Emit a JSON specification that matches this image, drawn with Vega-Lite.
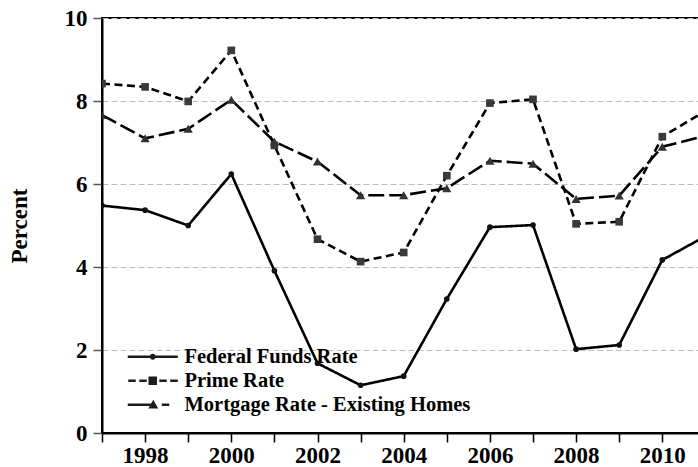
{
  "$schema": "https://vega.github.io/schema/vega-lite/v6.json",
  "width": 620,
  "height": 415,
  "autosize": "none",
  "padding": {"left": 102, "top": 18, "right": 0, "bottom": 34},
  "background": "white",
  "config": {
    "view": {"stroke": "black", "strokeWidth": 2},
    "font": "Liberation Serif"
  },
  "data": {
    "values": [
      {"s": "Federal Funds Rate", "y": 1997, "r": 5.48},
      {"s": "Federal Funds Rate", "y": 1998, "r": 5.37},
      {"s": "Federal Funds Rate", "y": 1999, "r": 5.0},
      {"s": "Federal Funds Rate", "y": 2000, "r": 6.24},
      {"s": "Federal Funds Rate", "y": 2001, "r": 3.91},
      {"s": "Federal Funds Rate", "y": 2002, "r": 1.68},
      {"s": "Federal Funds Rate", "y": 2003, "r": 1.15},
      {"s": "Federal Funds Rate", "y": 2004, "r": 1.37},
      {"s": "Federal Funds Rate", "y": 2005, "r": 3.23},
      {"s": "Federal Funds Rate", "y": 2006, "r": 4.96},
      {"s": "Federal Funds Rate", "y": 2007, "r": 5.01},
      {"s": "Federal Funds Rate", "y": 2008, "r": 2.02},
      {"s": "Federal Funds Rate", "y": 2009, "r": 2.12},
      {"s": "Federal Funds Rate", "y": 2010, "r": 4.17},
      {"s": "Federal Funds Rate", "y": 2011, "r": 4.74},
      {"s": "Prime Rate", "y": 1997, "r": 8.42},
      {"s": "Prime Rate", "y": 1998, "r": 8.34},
      {"s": "Prime Rate", "y": 1999, "r": 7.99},
      {"s": "Prime Rate", "y": 2000, "r": 9.22},
      {"s": "Prime Rate", "y": 2001, "r": 6.93},
      {"s": "Prime Rate", "y": 2002, "r": 4.67},
      {"s": "Prime Rate", "y": 2003, "r": 4.13},
      {"s": "Prime Rate", "y": 2004, "r": 4.35},
      {"s": "Prime Rate", "y": 2005, "r": 6.2},
      {"s": "Prime Rate", "y": 2006, "r": 7.95},
      {"s": "Prime Rate", "y": 2007, "r": 8.04},
      {"s": "Prime Rate", "y": 2008, "r": 5.04},
      {"s": "Prime Rate", "y": 2009, "r": 5.09},
      {"s": "Prime Rate", "y": 2010, "r": 7.14},
      {"s": "Prime Rate", "y": 2011, "r": 7.76},
      {"s": "Mortgage Rate - Existing Homes", "y": 1997, "r": 7.66},
      {"s": "Mortgage Rate - Existing Homes", "y": 1998, "r": 7.1},
      {"s": "Mortgage Rate - Existing Homes", "y": 1999, "r": 7.33},
      {"s": "Mortgage Rate - Existing Homes", "y": 2000, "r": 8.03},
      {"s": "Mortgage Rate - Existing Homes", "y": 2001, "r": 7.02},
      {"s": "Mortgage Rate - Existing Homes", "y": 2002, "r": 6.54},
      {"s": "Mortgage Rate - Existing Homes", "y": 2003, "r": 5.73},
      {"s": "Mortgage Rate - Existing Homes", "y": 2004, "r": 5.73},
      {"s": "Mortgage Rate - Existing Homes", "y": 2005, "r": 5.9},
      {"s": "Mortgage Rate - Existing Homes", "y": 2006, "r": 6.56},
      {"s": "Mortgage Rate - Existing Homes", "y": 2007, "r": 6.49},
      {"s": "Mortgage Rate - Existing Homes", "y": 2008, "r": 5.64},
      {"s": "Mortgage Rate - Existing Homes", "y": 2009, "r": 5.72},
      {"s": "Mortgage Rate - Existing Homes", "y": 2010, "r": 6.9},
      {"s": "Mortgage Rate - Existing Homes", "y": 2011, "r": 7.16}
    ]
  },
  "encoding": {
    "x": {
      "field": "y",
      "type": "quantitative",
      "scale": {"domain": [1997, 2011.385], "nice": false, "zero": false},
      "axis": {
        "title": null,
        "values": [1997, 1998, 1999, 2000, 2001, 2002, 2003, 2004, 2005, 2006, 2007, 2008, 2009, 2010, 2011],
        "format": "d",
        "labelExpr": "datum.value % 2 == 0 ? datum.label : ''",
        "grid": false,
        "domainColor": "black",
        "domainWidth": 2,
        "tickColor": "black",
        "tickWidth": 1.5,
        "tickSize": 9,
        "labelPadding": 2,
        "labelFont": "Liberation Serif",
        "labelFontWeight": "bold",
        "labelFontSize": 23,
        "labelColor": "black",
        "labelOverlap": false,
        "labelFlush": false
      }
    },
    "y": {
      "field": "r",
      "type": "quantitative",
      "scale": {"domain": [0, 10], "nice": false},
      "axis": {
        "title": "Percent",
        "values": [0, 2, 4, 6, 8, 10],
        "grid": true,
        "gridColor": "#bdbdbd",
        "gridDash": [6, 3],
        "gridWidth": 1,
        "domainColor": "black",
        "domainWidth": 2,
        "tickColor": "#555",
        "tickWidth": 1.5,
        "tickSize": 9,
        "labelPadding": 6,
        "labelFont": "Liberation Serif",
        "labelFontWeight": "bold",
        "labelFontSize": 23,
        "labelColor": "black",
        "titleFont": "Liberation Serif",
        "titleFontWeight": "bold",
        "titleFontSize": 23,
        "titleColor": "black",
        "titlePadding": 33
      }
    }
  },
  "layer": [
    {
      "mark": {"type": "line", "color": "black", "strokeWidth": 2.6, "clip": true},
      "encoding": {
        "detail": {"field": "s"},
        "strokeDash": {
          "field": "s",
          "type": "nominal",
          "scale": {
            "domain": ["Federal Funds Rate", "Prime Rate", "Mortgage Rate - Existing Homes"],
            "range": [[1, 0], [8, 4.5], [16, 5]]
          },
          "legend": null
        }
      }
    },
    {
      "mark": {"type": "point", "filled": true, "opacity": 1, "clip": true},
      "encoding": {
        "shape": {
          "field": "s",
          "type": "nominal",
          "scale": {
            "domain": ["Federal Funds Rate", "Prime Rate", "Mortgage Rate - Existing Homes"],
            "range": ["circle", "square", "triangle-up"]
          },
          "legend": null
        },
        "size": {
          "field": "s",
          "type": "nominal",
          "scale": {
            "domain": ["Federal Funds Rate", "Prime Rate", "Mortgage Rate - Existing Homes"],
            "range": [32, 85, 95]
          },
          "legend": null
        },
        "color": {
          "field": "s",
          "type": "nominal",
          "scale": {
            "domain": ["Federal Funds Rate", "Prime Rate", "Mortgage Rate - Existing Homes"],
            "range": ["#111111", "#3a3a3a", "#333333"]
          },
          "legend": null
        }
      }
    },
    {
      "transform": [{"filter": "datum.r < -100"}],
      "mark": {"type": "point", "filled": true, "color": "#1c1c1c", "opacity": 1},
      "encoding": {
        "shape": {
          "field": "s",
          "type": "nominal",
          "scale": {
            "domain": ["Federal Funds Rate", "Prime Rate", "Mortgage Rate - Existing Homes"],
            "range": [
              "M-5,-0.26L5,-0.26L5,0.26L-5,0.26ZM-0.58,0A0.58,0.58,0,1,1,0.58,0A0.58,0.58,0,1,1,-0.58,0Z",
              "M-4.9,-0.26L-3.4,-0.26L-3.4,0.26L-4.9,0.26ZM-2.7,-0.26L-1.2,-0.26L-1.2,0.26L-2.7,0.26ZM1.3,-0.26L2.8,-0.26L2.8,0.26L1.3,0.26ZM3.5,-0.26L5,-0.26L5,0.26L3.5,0.26ZM-0.85,-0.85L0.85,-0.85L0.85,0.85L-0.85,0.85Z",
              "M-5,-0.26L0.5,-0.26L0.5,0.26L-5,0.26ZM1.8,-0.26L3.3,-0.26L3.3,0.26L1.8,0.26ZM-0.9,0.75L0.1,-1.0L1.1,0.75Z"
            ]
          },
          "legend": {
            "title": null,
            "orient": "none",
            "legendX": 40.5,
            "legendY": 328.5,
            "symbolSize": 100,
            "symbolOpacity": 1,
            "symbolStrokeWidth": 0,
            "symbolFillColor": "#1c1c1c",
            "labelFont": "Liberation Serif",
            "labelFontWeight": "bold",
            "labelFontSize": 20.5,
            "labelColor": "black",
            "labelOffset": 21.5,
            "rowPadding": 3,
            "labelLimit": 0
          }
        }
      }
    }
  ],
  "resolve": {"scale": {"shape": "independent"}}
}
